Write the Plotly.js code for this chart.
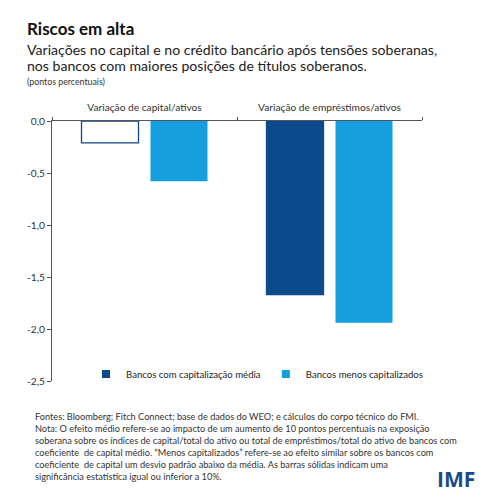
<!DOCTYPE html>
<html>
<head>
<meta charset="utf-8">
<script src="https://cdn.plot.ly/plotly-3.0.1.min.js"></script>
<style>html,body{margin:0;padding:0;background:#fff;}#chart{width:500px;height:500px;}</style>
</head>
<body>
<div id="chart"></div>
<script>
var categories = ["Variação de capital/ativos", "Variação de empréstimos/ativos"];
var seriesNames = ["Bancos com capitalização média", "Bancos menos capitalizados"];
var mediaValues = [-0.21, -1.67];
var menosValues = [-0.58, -1.94];
var mediaSignificant = [false, true];
var yTickVals = [0, -0.5, -1, -1.5, -2, -2.5];
var yTickText = ["0,0", "-0,5", "-1,0", "-1,5", "-2,0", "-2,5"];

var NAVY = "#0d4a8c";
var LIGHT = "#169fdf";
var FONT = "Lato, 'Open Sans', sans-serif";

var traces = [
  {
    type: "bar", x: categories, y: mediaValues, name: seriesNames[0],
    offsetgroup: "a", showlegend: false,
    marker: {
      color: mediaSignificant.map(function (s) { return s ? NAVY : "#ffffff"; }),
      line: {color: NAVY, width: 1.3}
    },
    hoverinfo: "y"
  },
  {
    type: "bar", x: categories, y: menosValues, name: seriesNames[1],
    offsetgroup: "b", showlegend: false,
    marker: {color: LIGHT, line: {width: 0}},
    hoverinfo: "y"
  },
  {
    type: "scatter", mode: "markers", x: [null], y: [null], name: seriesNames[0],
    marker: {symbol: "square", size: 8, color: NAVY}, showlegend: true
  },
  {
    type: "scatter", mode: "markers", x: [null], y: [null], name: seriesNames[1],
    marker: {symbol: "square", size: 8, color: LIGHT}, showlegend: true
  }
];

function px(x) { return (x - 52) / 370; }
function py(y) { return (381 - y) / 260; }

var annotations = [
  {text: "<b>Riscos em alta</b>", x: px(25), y: py(29), font: {size: 17, color: "#111"}},
  {text: "Variações no capital e no crédito bancário após tensões soberanas,", x: px(25), y: py(49.5), font: {size: 14.1, color: "#222"}},
  {text: "nos bancos com maiores posições de títulos soberanos.", x: px(25), y: py(65), font: {size: 14.1, color: "#222"}},
  {text: "(pontos percentuais)", x: px(25), y: py(81), font: {size: 8.8, color: "#333"}},
  {text: "Fontes: Bloomberg; Fitch Connect; base de dados do WEO; e cálculos do corpo técnico do FMI.<br>" +
         "Nota: O efeito médio refere-se ao impacto de um aumento de 10 pontos percentuais na exposição<br>" +
         "soberana sobre os índices de capital/total do ativo ou total de empréstimos/total do ativo de bancos com<br>" +
         "coeficiente  de capital médio. “Menos capitalizados” refere-se ao efeito similar sobre os bancos com<br>" +
         "coeficiente  de capital um desvio padrão abaixo da média. As barras sólidas indicam uma<br>" +
         "significância estatística igual ou inferior a 10%.",
   x: px(33), y: py(446.5), align: "left", font: {size: 9.2, color: "#333"}},
  {text: "<b>IMF</b>", x: px(456), y: py(479), xanchor: "center", font: {size: 21, color: "#1b4a8b", family: "'Open Sans', Lato, sans-serif"}}
].map(function (a) {
  return Object.assign({xref: "paper", yref: "paper", xanchor: "left", yanchor: "middle", showarrow: false, align: "left"}, a);
});

var layout = {
  width: 500, height: 500,
  margin: {l: 52, r: 78, t: 121, b: 119, pad: 0},
  paper_bgcolor: "#fff", plot_bgcolor: "#fff",
  font: {family: FONT, color: "#333", size: 10},
  barmode: "group", bargap: 0.254, bargroupgap: 0.174,
  showlegend: true,
  legend: {
    orientation: "h", x: px(86), xanchor: "left", y: py(374), yanchor: "middle",
    font: {size: 9.6, color: "#222"}, bgcolor: "rgba(0,0,0,0)",
    itemwidth: 30, tracegroupgap: 0
  },
  xaxis: {
    type: "category", side: "top", showline: true, linecolor: "#555", linewidth: 1,
    ticks: "outside", tickson: "boundaries", ticklen: 3, tickcolor: "#555",
    ticklabelstandoff: 5,
    tickfont: {size: 10.2, color: "#333"}, showgrid: false, zeroline: false,
    fixedrange: true
  },
  yaxis: {
    range: [-2.5, 0], showline: true, linecolor: "#555", linewidth: 1,
    ticks: "outside", ticklen: 4, tickcolor: "#555",
    tickvals: yTickVals, ticktext: yTickText,
    tickfont: {size: 10.2, color: "#333"}, showgrid: false, zeroline: false,
    fixedrange: true
  },
  annotations: annotations
};

Plotly.newPlot("chart", traces, layout, {staticPlot: true, displayModeBar: false});
</script>
</body>
</html>
